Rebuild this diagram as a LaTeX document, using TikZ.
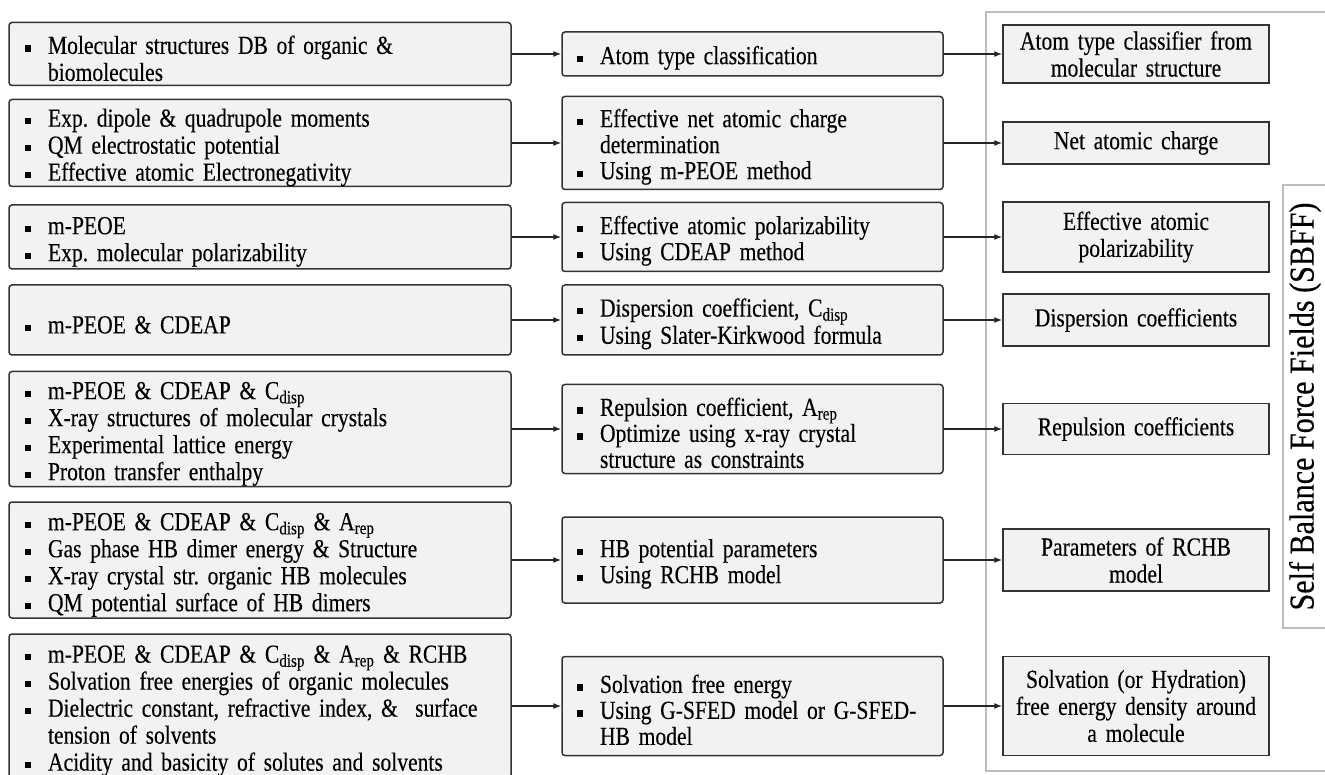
\documentclass[tikz,border=0pt]{standalone}
\usepackage{fontspec}
\setmainfont{Liberation Serif}
\newfontfamily\condserif[FakeStretch=0.83,FakeBold=0.25]{Liberation Serif}
\newfontfamily\sbffserif[FakeStretch=0.86,FakeBold=0.3]{Liberation Serif}
\usetikzlibrary{arrows.meta}
\definecolor{boxfill}{HTML}{F2F2F2}
\definecolor{boxline}{HTML}{333333}
\definecolor{framec}{HTML}{BDBDBD}
\frenchspacing
\newcommand{\bitem}[1]{\par\noindent\makebox[23pt][l]{\rule[0.09em]{0.24em}{0.24em}}#1}
\newcommand{\bcont}[1]{\par\noindent\hspace*{23pt}#1}
\tikzset{
  lbox/.style={draw=boxline, fill=boxfill, line width=1.5pt, rounded corners=3pt,
    minimum width=502pt, text width=470pt, inner xsep=16pt, inner ysep=0pt, align=left,
    font=\condserif\fontsize{26}{27}\selectfont},
  mbox/.style={draw=boxline, fill=boxfill, line width=1.5pt, rounded corners=3pt,
    minimum width=381pt, text width=351pt, inner xsep=15pt, inner ysep=0pt, align=left,
    font=\condserif\fontsize{26}{26}\selectfont},
  rbox/.style={draw=boxline, fill=boxfill, line width=1.5pt,
    minimum width=266pt, text width=256pt, inner xsep=5pt, inner ysep=0pt, align=center,
    font=\condserif\fontsize{26}{27}\selectfont},
  arr/.style={line width=1.3pt, draw=black!85, -{Latex[length=8pt,width=6pt]}},
}
\begin{document}
\begin{tikzpicture}[x=1pt,y=-1pt]
\useasboundingbox (0,0) rectangle (1325,775);
\clip (0,0) rectangle (1325,775);
% frame
\draw[framec, line width=1.2pt] (1335,12) -- (986,12) -- (986,771) -- (1335,771);
\node[draw=framec, line width=1.2pt, fill=white, minimum width=60pt, minimum height=443pt, inner sep=0pt] (sbffbox) at (1313,406.5) {};
\node[rotate=90, font=\sbffserif\fontsize{35}{37}\selectfont] (sbff) at (1305,406.5) {Self Balance Force Fields (SBFF)};
% left column
\node[lbox, minimum height=63pt] (L1) at (260,54) {\bitem{Molecular structures DB of organic \&}\bcont{biomolecules}};
\node[lbox, minimum height=87pt] (L2) at (260,143) {\bitem{Exp. dipole \& quadrupole moments}\bitem{QM electrostatic potential}\bitem{Effective atomic Electronegativity}};
\node[lbox, minimum height=64pt] (L3) at (260,237) {\bitem{m-PEOE}\bitem{Exp. molecular polarizability}};
\node[lbox, minimum height=70pt] (L4) at (260,320) {\bitem{m-PEOE \& CDEAP}};
\node[lbox, minimum height=115pt] (L5) at (260,429) {\bitem{m-PEOE \& CDEAP \& C\textsubscript{disp}}\bitem{X-ray structures of molecular crystals}\bitem{Experimental lattice energy}\bitem{Proton transfer enthalpy}};
\node[lbox, minimum height=116pt] (L6) at (260,560) {\bitem{m-PEOE \& CDEAP \& C\textsubscript{disp} \& A\textsubscript{rep}}\bitem{Gas phase HB dimer energy \& Structure}\bitem{X-ray crystal str. organic HB molecules}\bitem{QM potential surface of HB dimers}};
\node[lbox, minimum height=144pt] (L7) at (260,706) {\bitem{m-PEOE \& CDEAP \& C\textsubscript{disp} \& A\textsubscript{rep} \& RCHB}\bitem{Solvation free energies of organic molecules}\bitem{Dielectric constant, refractive index, \&\ \ surface}\bcont{tension of solvents}\bitem{Acidity and basicity of solutes and solvents}};
% middle column
\node[mbox, minimum height=44pt] (M1) at (752.5,54) {\bitem{Atom type classification}};
\node[mbox, minimum height=93pt] (M2) at (752.5,143) {\bitem{Effective net atomic charge}\bcont{determination}\bitem{Using m-PEOE method}};
\node[mbox, minimum height=69pt] (M3) at (752.5,237) {\bitem{Effective atomic polarizability}\bitem{Using CDEAP method}};
\node[mbox, minimum height=70pt] (M4) at (752.5,320) {\bitem{Dispersion coefficient, C\textsubscript{disp}}\bitem{Using Slater-Kirkwood formula}};
\node[mbox, minimum height=89pt] (M5) at (752.5,429) {\bitem{Repulsion coefficient, A\textsubscript{rep}}\bitem{Optimize using x-ray crystal}\bcont{structure as constraints}};
\node[mbox, minimum height=86pt] (M6) at (752.5,560) {\bitem{HB potential parameters}\bitem{Using RCHB model}};
\node[mbox, minimum height=99pt] (M7) at (752.5,706) {\bitem{Solvation free energy}\bitem{Using G-SFED model or G-SFED-}\bcont{HB model}};
% right column
\node[rbox, minimum height=58pt] (R1) at (1136,54) {Atom type classifier from\\molecular structure};
\node[rbox, minimum height=42pt] (R2) at (1136,143) {Net atomic charge};
\node[rbox, minimum height=70pt] (R3) at (1136,237) {Effective atomic\\polarizability};
\node[rbox, minimum height=52pt] (R4) at (1136,320) {Dispersion coefficients};
\node[rbox, minimum height=51pt] (R5) at (1136,429) {Repulsion coefficients};
\node[rbox, minimum height=62pt] (R6) at (1136,560) {Parameters of RCHB\\model};
\node[rbox, minimum height=99pt] (R7) at (1136,706) {Solvation (or Hydration)\\free energy density around\\a molecule};
% arrows
\foreach \i in {1,...,7}{
  \draw[arr] (L\i.east) -- (M\i.west);
  \draw[arr] (M\i.east) -- (R\i.west);
}
\end{tikzpicture}
\end{document}
